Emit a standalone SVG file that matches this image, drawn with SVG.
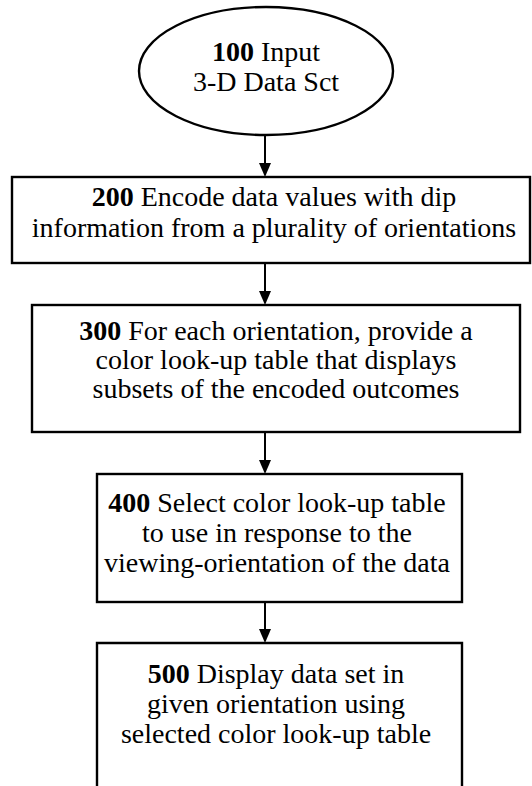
<svg xmlns="http://www.w3.org/2000/svg" width="532" height="786" viewBox="0 0 532 786">
  <defs>
    <style>
      .shape { fill: #fff; stroke: #000; stroke-width: 2.4; }
      .label { font-family: "Liberation Serif", "Times New Roman", serif; font-size: 28px; fill: #000; text-anchor: middle; }
      .num { font-weight: bold; }
      .link { stroke: #000; stroke-width: 2; fill: none; }
      .head { fill: #000; stroke: none; }
    </style>
  </defs>
  <rect width="532" height="786" fill="#fff"/>

  <g id="node-100">
    <ellipse class="shape" cx="266" cy="71" rx="127" ry="64"/>
    <text class="label" x="266" y="61"><tspan class="num">100</tspan> Input</text>
    <text class="label" x="266" y="91">3-D Data Sct</text>
  </g>

  <g id="node-200">
    <rect class="shape" x="12" y="177" width="518" height="86"/>
    <text class="label" x="274" y="206"><tspan class="num">200</tspan> Encode data values with dip</text>
    <text class="label" x="274" y="237">information from a plurality of orientations</text>
  </g>

  <g id="node-300">
    <rect class="shape" x="32" y="305" width="488" height="127"/>
    <text class="label" x="276" y="340"><tspan class="num">300</tspan> For each orientation, provide a</text>
    <text class="label" x="276" y="369">color look-up table that displays</text>
    <text class="label" x="276" y="398">subsets of the encoded outcomes</text>
  </g>

  <g id="node-400">
    <rect class="shape" x="97" y="474" width="365" height="128"/>
    <text class="label" x="277" y="512"><tspan class="num">400</tspan> Select color look-up table</text>
    <text class="label" x="277" y="542">to use in response to the</text>
    <text class="label" x="277" y="572">viewing-orientation of the data</text>
  </g>

  <!-- open-bottomed box: its lower edge runs past the page -->
  <g id="node-500">
    <path class="shape" d="M97,790 V643 H462 V790"/>
    <text class="label" x="276" y="683"><tspan class="num">500</tspan> Display data set in</text>
    <text class="label" x="276" y="713">given orientation using</text>
    <text class="label" x="276" y="743">selected color look-up table</text>
  </g>

  <g id="connectors">
    <line class="link" x1="265" y1="135" x2="265" y2="165"/>
    <path class="head" d="M259,163 L271,163 L265,177 Z"/>
    <line class="link" x1="265" y1="263" x2="265" y2="293"/>
    <path class="head" d="M259,291 L271,291 L265,305 Z"/>
    <line class="link" x1="265" y1="432" x2="265" y2="462"/>
    <path class="head" d="M259,460 L271,460 L265,474 Z"/>
    <line class="link" x1="265" y1="602" x2="265" y2="631"/>
    <path class="head" d="M259,629 L271,629 L265,643 Z"/>
  </g>
</svg>
